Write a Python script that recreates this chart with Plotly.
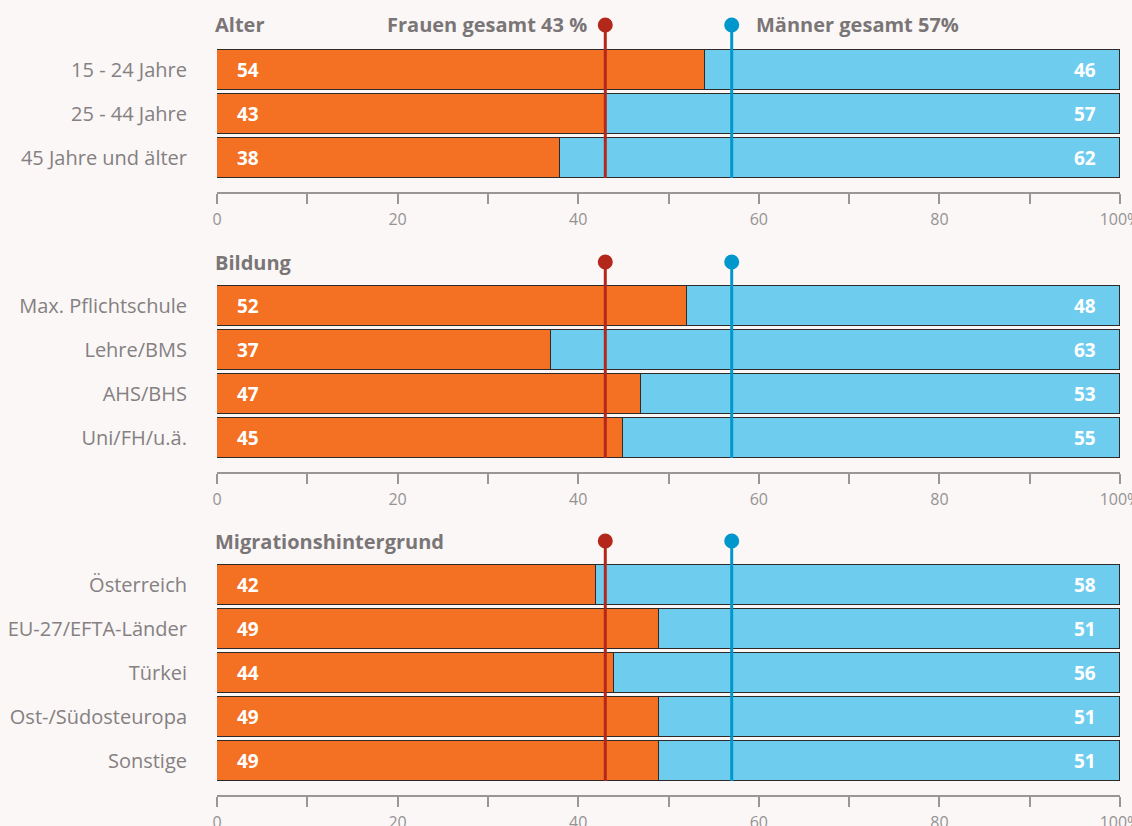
import plotly.graph_objects as go

# --- data -------------------------------------------------------------
alter_cats = ["15 - 24 Jahre", "25 - 44 Jahre", "45 Jahre und älter"]
alter_frauen = [54, 43, 38]
alter_maenner = [46, 57, 62]

bildung_cats = ["Max. Pflichtschule", "Lehre/BMS", "AHS/BHS", "Uni/FH/u.ä."]
bildung_frauen = [52, 37, 47, 45]
bildung_maenner = [48, 63, 53, 55]

migration_cats = ["Österreich", "EU-27/EFTA-Länder", "Türkei", "Ost-/Südosteuropa", "Sonstige"]
migration_frauen = [42, 49, 44, 49, 49]
migration_maenner = [58, 51, 56, 51, 51]

panel_titles = ["Alter", "Bildung", "Migrationshintergrund"]
frauen_gesamt = 43
maenner_gesamt = 57

tick_vals = [0, 20, 40, 60, 80, 100]
tick_text = ["0", "20", "40", "60", "80", "100%"]

# --- styling ----------------------------------------------------------
W, H = 1132, 826
BG = "#faf7f6"
ORANGE = "#f47022"
BLUE = "#6ecdee"
RED = "#b3281a"
DBLUE = "#0098cc"
GREY = "#7a7576"
FONT = "Open Sans"

X0, X1 = 217, 1120          # plot area, pixels
ROW = 44                    # row pitch, pixels
AXIS_GAP = 12               # axis line below last bar

panels = [
    dict(cats=alter_cats, f=alter_frauen, m=alter_maenner, top=48, title_y=25),
    dict(cats=bildung_cats, f=bildung_frauen, m=bildung_maenner, top=284, title_y=262),
    dict(cats=migration_cats, f=migration_frauen, m=migration_maenner, top=563, title_y=541),
]


def py(p):
    return 1 - p / H


fig = go.Figure()
shapes = []
annotations = []

for i, p in enumerate(panels):
    n = len(p["cats"])
    sfx = "" if i == 0 else str(i + 1)
    xa, ya = "x" + sfx, "y" + sfx
    bottom = p["top"] + n * ROW + AXIS_GAP
    bar_bottom = p["top"] + n * ROW - 2

    for vals, col in ((p["f"], ORANGE), (p["m"], BLUE)):
        fig.add_trace(go.Bar(
            y=p["cats"], x=vals, orientation="h",
            marker=dict(color=col, line=dict(color="#2e2a2a", width=1.2)),
            width=40 / ROW, xaxis=xa, yaxis=ya, showlegend=False,
            hoverinfo="skip",
        ))

    # value labels
    for cat, fv, mv in zip(p["cats"], p["f"], p["m"]):
        annotations.append(dict(x=0, y=cat, xref=xa, yref=ya, text=f"<b>{fv}</b>",
                                showarrow=False, xanchor="left", xshift=18,
                                font=dict(family=FONT, size=19, color="white")))
        annotations.append(dict(x=100, y=cat, xref=xa, yref=ya, text=f"<b>{mv}</b>",
                                showarrow=False, xanchor="right", xshift=-22,
                                font=dict(family=FONT, size=19, color="white")))

    fig.update_layout(**{
        ("xaxis" + sfx): dict(
            domain=[X0 / W, X1 / W], range=[0, 100], anchor=ya,
            automargin=False, ticklabeloverflow="allow",
            showgrid=False, zeroline=False, showline=True,
            linecolor="#9a9596", linewidth=1.5,
            tickvals=tick_vals, ticktext=tick_text,
            ticks="outside", ticklen=10, tickwidth=1.5, tickcolor="#9a9596",
            minor=dict(tickvals=[10, 30, 50, 70, 90], ticks="outside",
                       ticklen=10, tickwidth=1.5, tickcolor="#9a9596"),
            tickfont=dict(family=FONT, size=16, color="#969293"),
            ticklabelstandoff=2,
            fixedrange=True,
        ),
        ("yaxis" + sfx): dict(
            domain=[py(bottom), py(p["top"])], anchor=xa,
            automargin=False,
            type="category", categoryarray=p["cats"],
            range=[n - 0.5 + AXIS_GAP / ROW, -0.5],
            showgrid=False, zeroline=False, showline=False, ticks="",
            ticklabelstandoff=29,
            tickfont=dict(family=FONT, size=20, color="#858081"),
            fixedrange=True,
        ),
    })

    # panel title
    annotations.append(dict(x=X0 / W - 4 / W, y=py(p["title_y"]), xref="paper", yref="paper",
                            text=f"<b>{panel_titles[i]}</b>", showarrow=False,
                            xanchor="left", yanchor="middle",
                            font=dict(family=FONT, size=20, color=GREY)))

    # overall reference lines with round heads
    for val, col in ((frauen_gesamt, RED), (maenner_gesamt, DBLUE)):
        shapes.append(dict(type="line", xref=xa, yref="paper", x0=val, x1=val,
                           y0=py(p["title_y"]), y1=py(bar_bottom),
                           line=dict(color=col, width=3), layer="above"))
        shapes.append(dict(type="circle", xref=xa, yref="paper",
                           xsizemode="pixel", ysizemode="pixel",
                           xanchor=val, yanchor=py(p["title_y"]),
                           x0=-7.5, x1=7.5, y0=-7.5, y1=7.5,
                           fillcolor=col, line=dict(width=0), layer="above"))

# legend-style labels beside the first panel's markers
annotations.append(dict(x=frauen_gesamt, y=py(25), xref="x", yref="paper",
                        text=f"<b>Frauen gesamt {frauen_gesamt} %</b>", showarrow=False,
                        xanchor="right", xshift=-16, yanchor="middle",
                        font=dict(family=FONT, size=20, color=GREY)))
annotations.append(dict(x=maenner_gesamt, y=py(25), xref="x", yref="paper",
                        text=f"<b>Männer gesamt {maenner_gesamt}%</b>", showarrow=False,
                        xanchor="left", xshift=22, yanchor="middle",
                        font=dict(family=FONT, size=20, color=GREY)))

fig.update_layout(
    width=W, height=H, barmode="stack", bargap=0,
    margin=dict(l=0, r=0, t=0, b=0),
    paper_bgcolor=BG, plot_bgcolor=BG,
    shapes=shapes, annotations=annotations,
    font=dict(family=FONT),
)

fig.write_html("out.html", config=dict(displayModeBar=False))
